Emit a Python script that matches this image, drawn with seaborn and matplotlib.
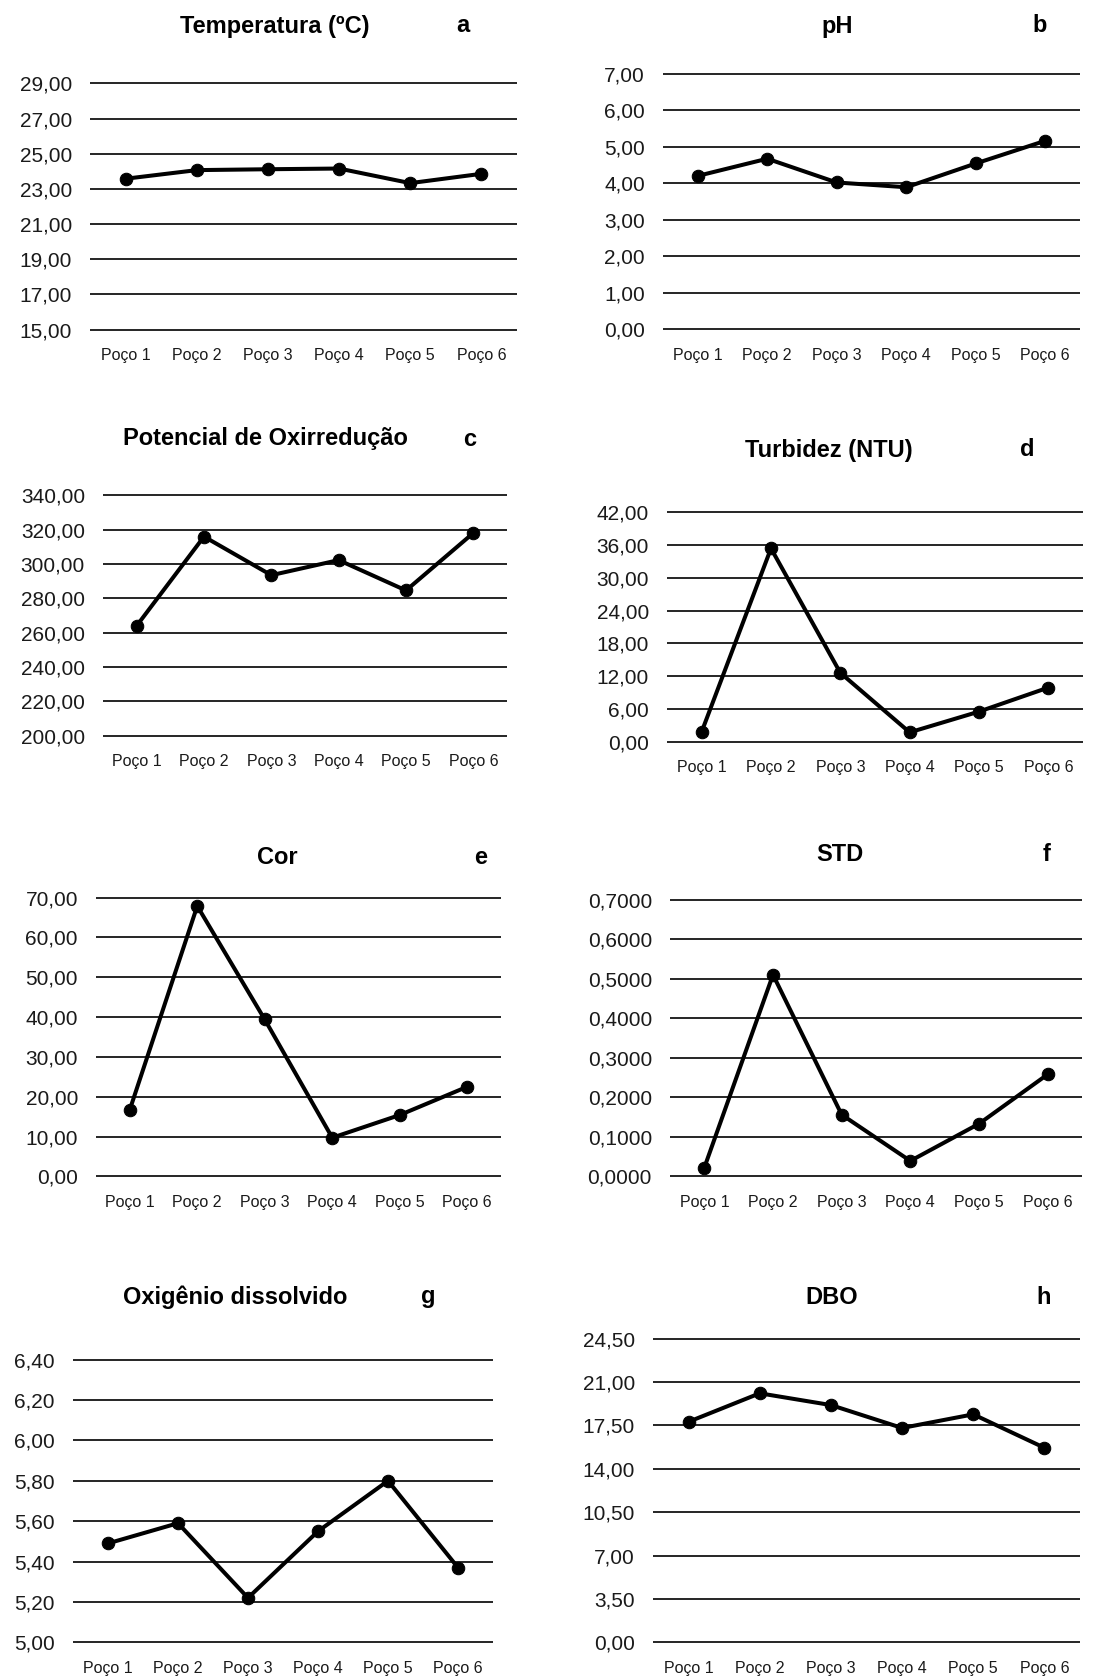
import numpy as np
import pandas as pd
import matplotlib
matplotlib.use("Agg")
import matplotlib.pyplot as plt
import seaborn as sns
from matplotlib.ticker import FuncFormatter

# Data
wells = ["Poço 1", "Poço 2", "Poço 3", "Poço 4", "Poço 5", "Poço 6"]

temperatura = [23.58, 24.07, 24.12, 24.16, 23.33, 23.86]
ph = [4.20, 4.67, 4.02, 3.89, 4.54, 5.16]
oxirreducao = [264.0, 316.0, 293.5, 302.3, 284.6, 318.1]
turbidez = [1.8, 35.4, 12.6, 1.7, 5.5, 9.9]
cor = [16.7, 67.9, 39.4, 9.7, 15.4, 22.5]
std = [0.022, 0.510, 0.156, 0.039, 0.133, 0.258]
oxigenio = [5.49, 5.59, 5.22, 5.55, 5.80, 5.37]
dbo = [17.8, 20.1, 19.15, 17.3, 18.4, 15.7]

titles = ["Temperatura (ºC)", "pH", "Potencial de Oxirredução", "Turbidez (NTU)",
          "Cor", "STD", "Oxigênio dissolvido", "DBO"]
letters = ["a", "b", "c", "d", "e", "f", "g", "h"]
series = [temperatura, ph, oxirreducao, turbidez, cor, std, oxigenio, dbo]

y_ticks = [
    np.arange(15, 29.1, 2),
    np.arange(0, 7.1, 1),
    np.arange(200, 340.1, 20),
    np.arange(0, 42.1, 6),
    np.arange(0, 70.1, 10),
    np.arange(0, 0.71, 0.1),
    np.arange(5.0, 6.41, 0.2),
    np.arange(0, 24.51, 3.5),
]
decimals = [2, 2, 2, 2, 2, 4, 2, 2]

# layout in pixels of the 1116x1677 figure: (x0, x1, y_top, y_bottom)
W, H = 1116, 1677
boxes = [
    (90, 517, 82, 331),
    (663, 1080, 72, 331),
    (103, 507, 494, 737),
    (667, 1083, 511, 743),
    (96, 501, 896, 1178),
    (670, 1082, 898, 1178),
    (73, 493, 1358, 1644),
    (653, 1080, 1337, 1644),
]
title_pos = [(275, 26), (837, 26), (265, 439), (829, 450),
             (277, 857), (840, 854), (235, 1297), (832, 1298)]
letter_pos = [(463, 26), (1040, 26), (470, 439), (1027, 450),
              (481, 857), (1047, 854), (428, 1297), (1044, 1298)]

sns.set_style("white")
plt.rcParams["font.family"] = ["Liberation Sans", "DejaVu Sans"]

fig = plt.figure(figsize=(W / 100, H / 100), dpi=100)

for i in range(8):
    x0, x1, yt, yb = boxes[i]
    ax = fig.add_axes([x0 / W, 1 - yb / H, (x1 - x0) / W, (yb - yt) / H])
    df = pd.DataFrame({"poco": wells, "valor": series[i]})
    sns.lineplot(data=df, x="poco", y="valor", ax=ax, color="black", lw=2.9,
                 marker="o", markersize=9, markeredgecolor="black", sort=False,
                 clip_on=False, zorder=3)
    ticks = y_ticks[i]
    span = ticks[-1] - ticks[0]
    ax.set_ylim(ticks[0] - span * 0.006, ticks[-1] + span * 0.006)
    ax.set_yticks(ticks)
    d = decimals[i]
    ax.yaxis.set_major_formatter(FuncFormatter(lambda v, p, d=d: f"{v:.{d}f}".replace(".", ",")))
    ax.set_xlim(-0.5, 5.5)
    ax.grid(axis="y", color="black", lw=1.2)
    ax.grid(axis="x", visible=False)
    for s in ax.spines.values():
        s.set_visible(False)
    ax.tick_params(axis="y", length=0, pad=13, labelsize=15, labelcolor="#1a1a1a")
    ax.tick_params(axis="x", length=0, pad=12, labelsize=11.5, labelcolor="#1a1a1a")
    ax.set_xlabel("")
    ax.set_ylabel("")

    tx, ty = title_pos[i]
    fig.text(tx / W, 1 - ty / H, titles[i], ha="center", va="center", fontsize=17,
             fontweight="bold", color="black")
    lx, ly = letter_pos[i]
    fig.text(lx / W, 1 - ly / H, letters[i], ha="center", va="center", fontsize=17,
             fontweight="bold", color="black")

fig.savefig("out.png", dpi=100, facecolor="white")
